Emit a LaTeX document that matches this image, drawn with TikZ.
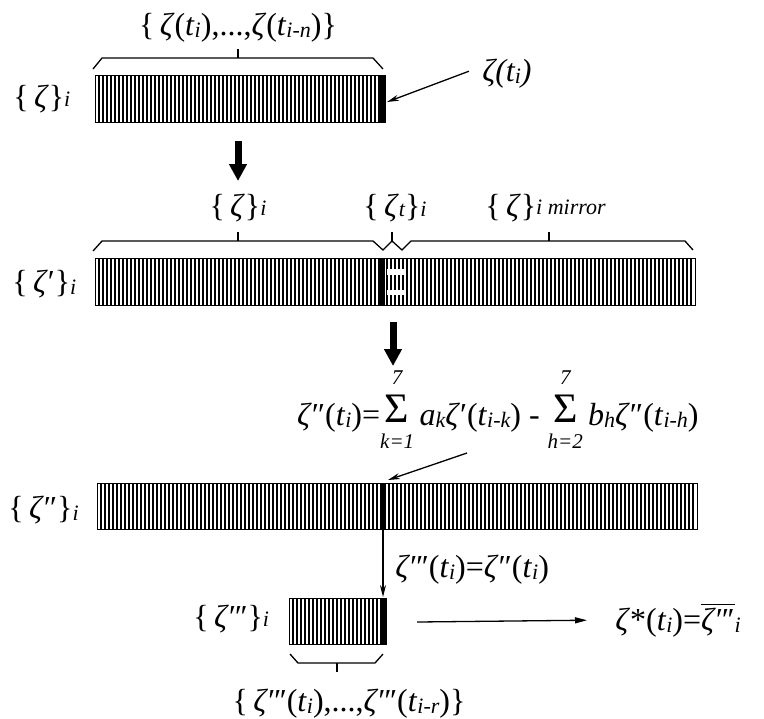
\documentclass[tikz,border=0pt]{standalone}
\usepackage{fontspec}
\setmainfont{Liberation Serif}
\usetikzlibrary{arrows.meta}
\newcommand\zs{\textit{ζ}}
\newcommand\lo[2][-1.3pt]{\raisebox{#1}{\fontsize{11}{11}\selectfont\itshape #2}}
\newcommand\tti[1]{\textit{t}\lo{#1}}
\newcommand\onep{′}
\newcommand\twop{″}
\newcommand\threep{″\kern-0.05em′}
\newcommand\sml[1]{\hbox{\fontsize{10.5}{10.5}\selectfont\itshape #1}}
\newcommand\bigsum[2]{\ensuremath{\mathop{\raisebox{1.5pt}{\fontsize{21}{21}\selectfont Σ}}\limits^{\raisebox{3pt}[\height][\depth]{\sml{#1}}}_{\raisebox{-3pt}[\height][\depth]{\sml{#2}}}}}
\begin{document}
\begin{tikzpicture}[x=0.5pt,y=-0.5pt,
  every node/.style={inner sep=0pt, font=\fontsize{16}{18}\selectfont},
  stripe/.style={line width=1pt},
  barbox/.style={draw, line width=0.65pt, minimum height=23.5pt, anchor=north west},
  brace/.style={line width=0.65pt},
  thinarrow/.style={line width=0.65pt, -{Stealth[length=6pt,width=3pt]}},
  fatarrow/.style={line width=3.5pt, -{Triangle[length=8.5pt,width=8.5pt]}},
  hfill/.style={fill=black},
  gapfill/.style={fill=white}]
\useasboundingbox (0,0) rectangle (764,718);

% ---------- bar 1
\foreach \x in {99,103,...,379} \draw[stripe] (\x,75) -- (\x,122);
\fill[hfill] (380,75) rectangle (385,122);
\node[barbox, minimum width=145pt] (bar1) at (95,75) {};
\draw[brace] (93,69) -- (102,58) -- (373,58) -- (383,69);
\draw[brace] (238,58) -- (238,49);
\node[anchor=base] (lab1) at (238,35) {\{\,\zs(\tti{i}),...,\zs(\tti{i-n})\}};
\node[anchor=base west] (set1) at (13,107) {\{\,\zs\}\lo[0.5pt]{i}};
\node[anchor=base] (zl) at (507,81) {\itshape ζ(\textit{t}\lo{i})};
\coordinate (b1p) at (387,102);
\draw[thinarrow] ([xshift=-6.5pt,yshift=1pt]zl.west) -- (b1p);

% ---------- fat arrow 1
\coordinate (fa1s) at (238,141);
\coordinate (fa1e) at (238,181);
\draw[fatarrow] (fa1s) -- (fa1e);

% ---------- bar 2
\foreach \x in {99,103,...,691} \draw[stripe] (\x,258) -- (\x,305);
\fill[hfill] (379,258) rectangle (385,305);
\fill[gapfill] (387,269) rectangle (404,275);
\fill[gapfill] (387,290) rectangle (404,295);
\node[barbox, minimum width=300pt] (bar2) at (95,258) {};
\draw[brace] (93,251) -- (102,241) -- (373,241) -- (383,250) -- (392,241) -- (402,250) -- (411,241) -- (685,241) -- (693,250);
\draw[brace] (238,241) -- (238,232);
\draw[brace] (392,241) -- (392,232);
\draw[brace] (549,241) -- (549,232);
\node[anchor=base] (lab2a) at (238,216) {\{\,\zs\}\lo[0.5pt]{i}};
\node[anchor=base] (lab2b) at (395,216) {\{\,\zs\lo[0pt]{t}\}\lo[0pt]{i}};
\node[anchor=base west] (lab2c) at (485,216) {\{\,\zs\}\lo[1pt]{i mirror}};
\node[anchor=base west] (set2) at (12,292) {\{\,\zs\onep\}\lo{i}};

% ---------- fat arrow 2
\coordinate (fa2s) at (393,322);
\coordinate (fa2e) at (393,366);
\draw[fatarrow] (fa2s) -- (fa2e);

% ---------- formula
\node[anchor=base east] (form) at (699,425) {\zs\twop(\tti{i})=\bigsum{7}{k=1}\,\textit{a}\lo{k}\zs\onep(\tti{i-k}) - \bigsum{7}{h=2}\,\textit{b}\lo{h}\zs\twop(\tti{i-h})};
\coordinate (fa) at (467,453);
\coordinate (b3p) at (388,480);
\draw[thinarrow] (fa) -- (b3p);

% ---------- bar 3
\foreach \x in {101,105,...,693} \draw[stripe] (\x,483) -- (\x,529);
\fill[hfill] (380,483) rectangle (385,529);
\node[barbox, minimum width=300pt, minimum height=23pt] (bar3) at (97,483) {};
\node[anchor=base west] (set3) at (8,518) {\{\,\zs\twop\}\lo{i}};

% ---------- down arrow
\coordinate (b3b) at (383,530);
\coordinate (b4t) at (383,597);
\draw[thinarrow] (b3b) -- (b4t);
\node[anchor=base west] (eq2) at (395,577) {\zs\threep(\tti{i})=\zs\twop(\tti{i})};

% ---------- bar 4
\foreach \x in {293,297,...,381} \draw[stripe] (\x,598) -- (\x,644);
\fill[hfill] (381,598) rectangle (386,644);
\node[barbox, minimum width=48.5pt, minimum height=23pt] (bar4) at (289,598) {};
\node[anchor=base west] (set4) at (193,627) {\{\,\zs\threep\}\lo[0.5pt]{i}};
\draw[brace] (290,654) -- (298,663) -- (375,663) -- (383,654);
\draw[brace] (337,663) -- (337,672);
\node[anchor=base] (lab4) at (349,711) {\{\,\zs\threep(\tti{i}),...,\zs\threep(\tti{i-r})\}};

% ---------- result
\node[anchor=base west] (star) at (615,630) {\zs*(\tti{i})=\(\overline{\hbox{\zs\threep}}\)\lo{i}};
\coordinate (ha) at (417,622);
\draw[line width=0.65pt, -{Triangle[length=6pt,width=3pt]}] (ha) -- ([xshift=-14pt]star.west);
\end{tikzpicture}
\end{document}
